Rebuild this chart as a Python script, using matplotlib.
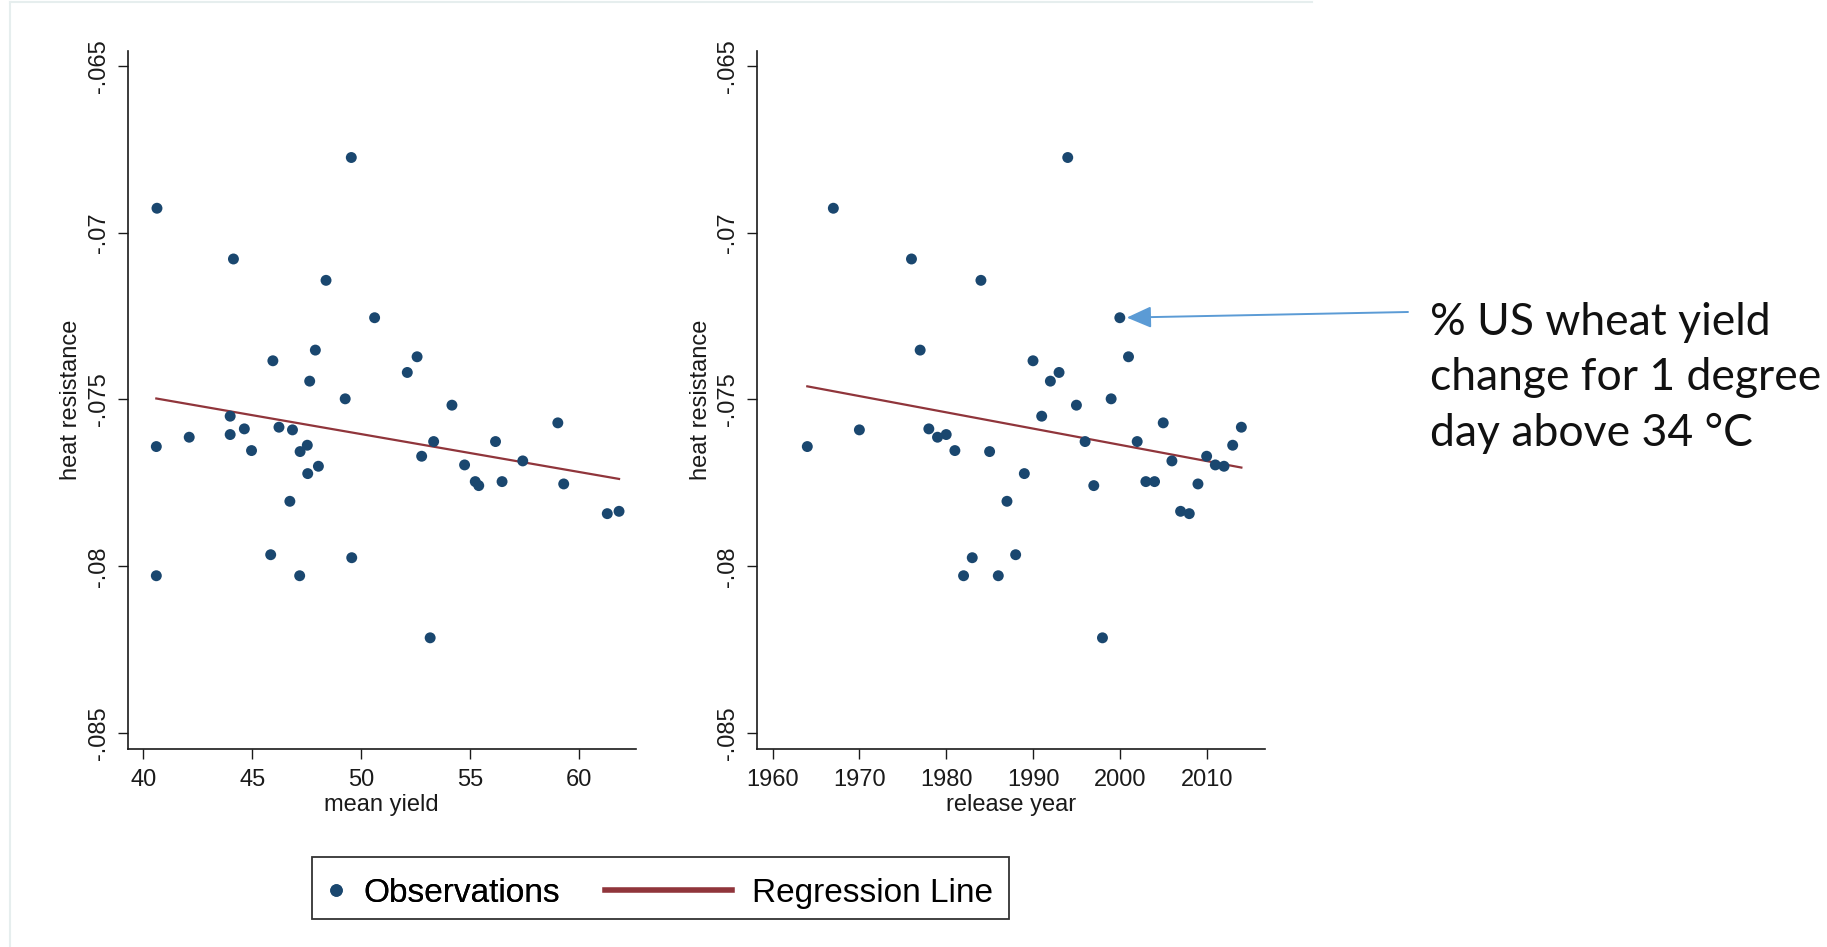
import numpy as np
import matplotlib
matplotlib.use("Agg")
import matplotlib.pyplot as plt
from matplotlib.patches import Rectangle
from matplotlib.lines import Line2D

# ---------------- data ----------------
heat_resistance = [
    -0.06775, -0.06927, -0.07079, -0.07143, -0.07255, -0.07352, -0.07384,
    -0.07372, -0.07419, -0.07445, -0.07498, -0.07517, -0.07570, -0.07550,
    -0.07588, -0.07583, -0.07591, -0.07605, -0.07613, -0.07641, -0.07637,
    -0.07656, -0.07653, -0.07700, -0.07722, -0.07805, -0.07965, -0.07974,
    -0.08028, -0.08028, -0.08214, -0.07626, -0.07626, -0.07670, -0.07696,
    -0.07684, -0.07746, -0.07746, -0.07758, -0.07753, -0.07842, -0.07835,
]
mean_yield = [
    49.55, 40.63, 44.14, 48.39, 50.62, 47.90, 45.95,
    52.57, 52.12, 47.64, 49.27, 54.17, 59.03, 43.99,
    44.64, 46.23, 46.85, 43.99, 42.11, 40.60, 47.53,
    47.20, 44.97, 48.04, 47.55, 46.73, 45.85, 49.57,
    40.60, 47.18, 53.17, 53.33, 56.17, 52.78, 54.75,
    57.42, 55.24, 56.47, 55.40, 59.30, 61.30, 61.84,
]
release_year = [
    1994, 1967, 1976, 1984, 2000, 1977, 1990,
    2001, 1993, 1992, 1999, 1995, 2005, 1991,
    1978, 2014, 1970, 1980, 1979, 1964, 2013,
    1985, 1981, 2012, 1989, 1987, 1988, 1983,
    1982, 1986, 1998, 1996, 2002, 2010, 2011,
    2006, 2003, 2004, 1997, 2009, 2008, 2007,
]
y_ticks = [-0.085, -0.08, -0.075, -0.07, -0.065]
y_ticklabels = ["-.085", "-.08", "-.075", "-.07", "-.065"]
yield_ticks = [40, 45, 50, 55, 60]
year_ticks = [1960, 1970, 1980, 1990, 2000, 2010]
annot_year, annot_value = 2000, -0.07255
annot_text = "% US wheat yield\nchange for 1 degree\nday above 34 °C"

# ---------------- style ----------------
W, H = 1827, 947
NAVY = "#1a476f"
MAROON = "#90353b"
ARROW = "#5b9bd5"
plt.rcParams["font.family"] = ["Liberation Sans", "DejaVu Sans"]

fig = plt.figure(figsize=(W / 100, H / 100), dpi=100)
fig.patch.set_facecolor("white")

def fx(px):
    return px / W

def fy(py):
    return 1 - py / H

ax_top, ax_bot = 50.7, 749.3
panels = [
    (128.0, 635.6, mean_yield, yield_ticks, "mean yield", (39.30, 62.60)),
    (757.3, 1264.8, release_year, year_ticks, "release year", (1958.24, 2016.70)),
]
axes = []
for x0, x1, xs, xt, xlabel, xlim in panels:
    ax = fig.add_axes([fx(x0), fy(ax_bot), (x1 - x0) / W, (ax_bot - ax_top) / H])
    xs_arr = np.asarray(xs, dtype=float)
    ys_arr = np.asarray(heat_resistance, dtype=float)
    ax.scatter(xs_arr, ys_arr, s=62, color=NAVY, edgecolors="none", zorder=3)
    b, a = np.polyfit(xs_arr, ys_arr, 1)
    xl = np.array([xs_arr.min(), xs_arr.max()])
    ax.plot(xl, a + b * xl, color=MAROON, lw=1.6, zorder=2)
    ax.set_xlim(*xlim)
    ax.set_ylim(-0.08548, -0.06455)
    ax.set_xticks(xt)
    ax.set_xticklabels([str(t) for t in xt])
    ax.set_yticks(y_ticks)
    ax.set_yticklabels(y_ticklabels, rotation=90, va="center")
    ax.tick_params(axis="both", direction="out", length=7, width=1.0,
                   labelsize=17, colors="#1a1a1a", pad=6)
    ax.tick_params(axis="x", pad=7)
    for s in ("top", "right"):
        ax.spines[s].set_visible(False)
    for s in ("left", "bottom"):
        ax.spines[s].set_linewidth(1.2)
        ax.spines[s].set_color("#1a1a1a")
    ax.set_xlabel(xlabel, fontsize=17, color="#1a1a1a", labelpad=2)
    ax.set_ylabel("heat resistance", fontsize=17, color="#1a1a1a", labelpad=4)
    ax.set_facecolor("white")
    axes.append(ax)

# annotation arrow + text
axes[1].annotate("", xy=(annot_year, annot_value), xycoords="data",
                 xytext=(fx(1408), fy(312)), textcoords="figure fraction",
                 arrowprops=dict(arrowstyle="-|>,head_length=0.75,head_width=0.33",
                                 color=ARROW, lw=1.4, shrinkA=0, shrinkB=5,
                                 mutation_scale=20),
                 annotation_clip=False)
fig.text(fx(1430), fy(378), annot_text, fontsize=32, family=["Lato", "DejaVu Sans"],
         ha="left", va="center", linespacing=1.45, color="#111111")

# legend (two key groups inside one frame)
LEG_Y = fy(893)
h_obs = Line2D([], [], marker="o", ls="none", color=NAVY, markersize=8)
h_reg = Line2D([], [], color=MAROON, lw=4)
leg1 = fig.legend([h_obs], ["Observations"], loc="center left",
                  bbox_to_anchor=(fx(321), LEG_Y), frameon=False, fontsize=24,
                  handlelength=0.9, handletextpad=0.38, borderpad=0, borderaxespad=0)
leg2 = fig.legend([h_reg], ["Regression Line"], loc="center left",
                  bbox_to_anchor=(fx(605), LEG_Y), frameon=False, fontsize=24,
                  handlelength=3.8, handletextpad=0.6, borderpad=0, borderaxespad=0)
fig.add_artist(leg1)
fig.patches.append(Rectangle((fx(312), fy(919)), (1009 - 312) / W, (919 - 857) / H,
                             transform=fig.transFigure, fill=False,
                             edgecolor="#333333", lw=1.3))

# faint slide frame
fig.add_artist(Line2D([fx(10), fx(1312)], [fy(2.5), fy(2.5)], transform=fig.transFigure,
                      color="#e6eeee", lw=1.5))
fig.add_artist(Line2D([fx(10), fx(10)], [fy(2.5), fy(947)], transform=fig.transFigure,
                      color="#e6eeee", lw=1.5))

fig.savefig("out.png", dpi=100, facecolor="white")
